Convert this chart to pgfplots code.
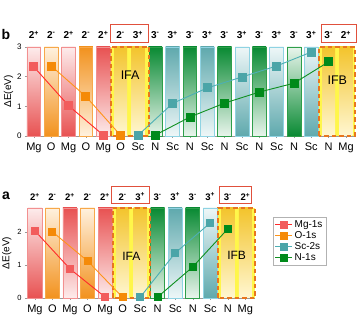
\documentclass[border=0pt]{standalone}
\usepackage{pgfplots}
\pgfplotsset{compat=1.18}
\usepackage{fontspec}
\setmainfont{Liberation Sans}
\definecolor{mgline}{HTML}{FF2A2A}
\definecolor{mgmark}{HTML}{F25C5C}
\definecolor{oline}{HTML}{FF9419}
\definecolor{omark}{HTML}{F58A07}
\definecolor{scline}{HTML}{4DAFB5}
\definecolor{scmark}{HTML}{4BA5A8}
\definecolor{nline}{HTML}{109020}
\definecolor{nmark}{HTML}{008A1A}
\definecolor{mgdark}{HTML}{E85252}
\definecolor{mglight}{HTML}{FDECEC}
\definecolor{mgedge}{HTML}{F29090}
\definecolor{odark}{HTML}{F2921E}
\definecolor{olight}{HTML}{FFF1DE}
\definecolor{oedge}{HTML}{F7A84A}
\definecolor{scdark}{HTML}{5FA9AD}
\definecolor{sclight}{HTML}{EEF7F8}
\definecolor{scedge}{HTML}{8FD3E3}
\definecolor{ndark}{HTML}{098A33}
\definecolor{nlight}{HTML}{E9F5EC}
\definecolor{nedge}{HTML}{2E9E4A}
\definecolor{ifbg}{HTML}{FFF64A}
\definecolor{goldtop}{HTML}{F3C42C}
\definecolor{goldbot}{HTML}{FFF7D2}
\definecolor{dashor}{HTML}{E8761E}
\definecolor{boxred}{HTML}{E0503C}
\newcommand{\B}[5]{\addplot[ybar, bar width=0.8, bar shift=0pt, draw=#3, line width=0.8pt, top color=#4, bottom color=#5, forget plot] coordinates {(#1,#2)};}
\newcommand{\G}[2]{\addplot[ybar, bar width=0.75, bar shift=0pt, draw=none, top color=goldtop, bottom color=goldbot, forget plot] coordinates {(#1,#2)};}
\newcommand{\Reg}[3]{%
\addplot[fill=ifbg, draw=none, forget plot] coordinates {(#1,#3)(#2,#3)} \closedcycle;}
\newcommand{\Dash}[3]{%
\addplot[draw=dashor, line width=2.4pt, dash pattern=on 4.5pt off 3pt, forget plot] coordinates {(#1,0)(#1,#3)(#2,#3)(#2,0)(#1,0)};}
\newcommand{\Pl}{\textsuperscript{+}}
\newcommand{\Mi}{\textsuperscript{-}}
\newcommand{\Tb}[2]{\node[font=\bfseries\fontsize{10}{11}\selectfont] at ([yshift=12pt]axis cs:#1,3) {#2};}
\newcommand{\Ta}[2]{\node[font=\bfseries\fontsize{9.5}{10}\selectfont] at ([yshift=11pt]axis cs:#1,2.72) {#2};}
\pgfplotsset{
  common/.style={
    scale only axis, anchor=south west, clip=false,
    axis lines*=left, axis line style={gray!80, line width=0.5pt},
    tick style={gray!80, line width=0.4pt}, major tick length=2pt,
    tick align=outside, ymin=0,
    /pgf/number format/assume math mode=true,
    xticklabel style={font=\fontsize{11}{12}\selectfont, yshift=-1pt},
    ylabel={ΔE(eV)},
    ylabel style={font=\fontsize{10}{11}\selectfont},
  },
}
\begin{document}
\begin{tikzpicture}
\useasboundingbox (0,0) rectangle (357pt,318pt);
% ---------------- panel b ----------------
\begin{axis}[common, at={(27pt,182pt)}, width=328pt, height=89pt,
  xmin=-0.4, xmax=18.52, ymax=3, ytick={0,1,2,3},
  yticklabel style={font=\fontsize{8}{9}\selectfont},
  xtick={0,...,18},
  xticklabels={Mg,O,Mg,O,Mg,O,Sc,N,Sc,N,Sc,N,Sc,N,Sc,N,Sc,N,Mg},
  ylabel shift=-3pt]
\B{0}{3}{mgedge}{mglight}{mgdark}
\B{1}{3}{oedge}{olight}{odark}
\B{2}{3}{mgedge}{mglight}{mgdark}
\B{3}{3}{oedge}{odark}{olight}
\B{4}{3}{mgedge}{mgdark}{mglight}
\B{7}{3}{nedge}{ndark}{nlight}
\B{8}{3}{scedge}{scdark}{sclight}
\B{9}{3}{nedge}{ndark}{nlight}
\B{10}{3}{scedge}{scdark}{sclight}
\B{11}{3}{nedge}{ndark}{nlight}
\B{12}{3}{scedge}{sclight}{scdark}
\B{13}{3}{nedge}{ndark}{nlight}
\B{14}{3}{scedge}{sclight}{scdark}
\B{15}{3}{nedge}{nlight}{ndark}
\B{16}{3}{scedge}{sclight}{scdark}
\Reg{4.45}{6.65}{3}
\G{5}{3}
\G{6}{3}
\Reg{16.45}{18.52}{3}
\G{17}{3}
\G{18}{3}
\Dash{4.45}{6.65}{3}
\Dash{16.45}{18.52}{3}
\node[font=\fontsize{12.5}{13}\selectfont] at (axis cs:5.55,2.05) {IFA};
\node[font=\fontsize{12.5}{13}\selectfont] at (axis cs:17.5,1.88) {IFB};
\addplot[color=mgline, line width=0.9pt, mark=square*, mark size=4pt, mark options={fill=mgmark, draw=mgmark}] coordinates {(0,2.33)(2,1.02)(4,0.03)};
\addplot[color=oline, line width=0.9pt, mark=square*, mark size=4pt, mark options={fill=omark, draw=omark}] coordinates {(1,2.36)(3,1.33)(5,0.02)};
\addplot[color=scline, line width=0.9pt, mark=square*, mark size=4pt, mark options={fill=scmark, draw=scmark}] coordinates {(6,0.02)(8,1.1)(10,1.62)(12,1.99)(14,2.36)(16,2.83)};
\addplot[color=nline, line width=0.9pt, mark=square*, mark size=4pt, mark options={fill=nmark, draw=nmark}] coordinates {(7,0.03)(9,0.64)(11,1.11)(13,1.48)(15,1.78)(17,2.5)};
\Tb{0}{2\Pl}\Tb{1}{2\Mi}\Tb{2}{2\Pl}\Tb{3}{2\Mi}\Tb{4}{2\Pl}\Tb{5}{2\Mi}
\Tb{6}{3\Pl}\Tb{7}{3\Mi}\Tb{8}{3\Pl}\Tb{9}{3\Mi}\Tb{10}{3\Pl}\Tb{11}{3\Mi}
\Tb{12}{3\Pl}\Tb{13}{3\Mi}\Tb{14}{3\Pl}\Tb{15}{3\Mi}\Tb{16}{3\Pl}\Tb{17}{3\Mi}\Tb{18}{2\Pl}
\draw[boxred, line width=1pt] ([yshift=4pt]axis cs:4.44,3) rectangle ([yshift=22pt]axis cs:6.58,3);
\draw[boxred, line width=1pt] ([yshift=4pt]axis cs:16.56,3) rectangle ([yshift=22pt]axis cs:18.58,3);
\end{axis}
% ---------------- panel a ----------------
\begin{axis}[common, at={(27pt,20pt)}, width=228pt, height=90pt,
  xmin=-0.45, xmax=12.55, ymax=2.72, ytick={0,1,2},
  yticklabel style={font=\fontsize{7.5}{8}\selectfont},
  xtick={0,...,12},
  xticklabels={Mg,O,Mg,O,Mg,O,Sc,N,Sc,N,Sc,N,Mg},
  ylabel shift=-1pt,
  legend style={at={(1.079,0.9)}, anchor=north west, draw=gray!60,
    font=\fontsize{10}{11}\selectfont, inner sep=1.5pt, row sep=-1.5pt},
  legend cell align=left]
\B{0}{2.72}{mgedge}{mglight}{mgdark}
\B{1}{2.72}{oedge}{olight}{odark}
\B{2}{2.72}{mgedge}{mgdark}{mglight}
\B{3}{2.72}{oedge}{olight}{odark}
\B{4}{2.72}{mgedge}{mgdark}{mglight}
\B{7}{2.72}{nedge}{ndark}{nlight}
\B{8}{2.72}{scedge}{scdark}{sclight}
\B{9}{2.72}{nedge}{ndark}{nlight}
\B{10}{2.72}{scedge}{sclight}{scdark}
\Reg{4.45}{6.55}{2.72}
\G{5}{2.72}
\G{6}{2.72}
\Reg{10.45}{12.55}{2.72}
\G{11}{2.72}
\G{12}{2.72}
\Dash{4.45}{6.55}{2.72}
\Dash{10.45}{12.55}{2.72}
\node[font=\fontsize{12}{13}\selectfont] at (axis cs:5.5,1.27) {IFA};
\node[font=\fontsize{12}{13}\selectfont] at (axis cs:11.5,1.3) {IFB};
\addplot[color=mgline, line width=0.9pt, mark=square*, mark size=3.5pt, mark options={fill=mgmark, draw=mgmark}] coordinates {(0,2.03)(2,0.88)(4,0.03)};
\addlegendentry{Mg-1s}
\addplot[color=oline, line width=0.9pt, mark=square*, mark size=3.5pt, mark options={fill=omark, draw=omark}] coordinates {(1,2.0)(3,1.12)(5,0.02)};
\addlegendentry{O-1s}
\addplot[color=scline, line width=0.9pt, mark=square*, mark size=3.5pt, mark options={fill=scmark, draw=scmark}] coordinates {(6,0.02)(8,1.36)(10,2.27)};
\addlegendentry{Sc-2s}
\addplot[color=nline, line width=0.9pt, mark=square*, mark size=3.5pt, mark options={fill=nmark, draw=nmark}] coordinates {(7,0.03)(9,0.94)(11,2.09)};
\addlegendentry{N-1s}
\Ta{0}{2\Pl}\Ta{1}{2\Mi}\Ta{2}{2\Pl}\Ta{3}{2\Mi}\Ta{4}{2\Pl}\Ta{5}{2\Mi}
\Ta{6}{3\Pl}\Ta{7}{3\Mi}\Ta{8}{3\Pl}\Ta{9}{3\Mi}\Ta{10}{3\Pl}\Ta{11}{3\Mi}\Ta{12}{2\Pl}
\draw[boxred, line width=1pt] ([yshift=4pt]axis cs:4.38,2.72) rectangle ([yshift=21pt]axis cs:6.54,2.72);
\draw[boxred, line width=1pt] ([yshift=4pt]axis cs:10.52,2.72) rectangle ([yshift=21pt]axis cs:12.34,2.72);
\end{axis}
\node[font=\bfseries\fontsize{14}{14}\selectfont] at (6pt,283pt) {b};
\node[font=\bfseries\fontsize{14}{14}\selectfont] at (6pt,122pt) {a};
\end{tikzpicture}
\end{document}
